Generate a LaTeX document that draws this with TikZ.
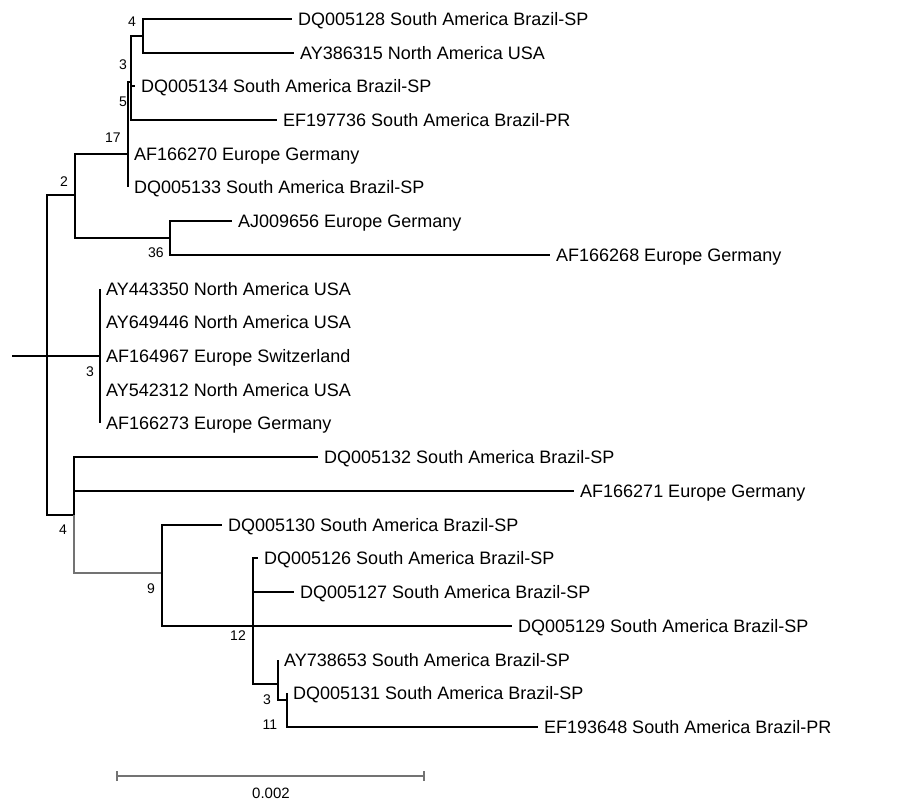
\documentclass[tikz,border=0pt]{standalone}
\usepackage{fontspec}
\setmainfont{Liberation Sans}

\tikzset{
  taxon/.style={anchor=west, inner xsep=6pt, inner ysep=0pt,
    text height=16.5pt, text depth=3.6pt, font=\fontsize{18}{20}\selectfont},
  boot/.style={inner sep=0pt, font=\fontsize{14}{15}\selectfont},
  branch/.style={line width=1.1pt},
  faint/.style={branch, draw=black!55}
}

\begin{document}
\begin{tikzpicture}[x=1pt,y=-1pt]
    \useasboundingbox (0,0) rectangle (902,802);

    % inner nodes of the tree
    \coordinate (base) at (12,356);
    \coordinate (root) at (47,356);
    \coordinate (n2) at (75,195);
    \coordinate (n17) at (128,154);
    \coordinate (n3a) at (131,82);
    \coordinate (n4a) at (143,36);
    \coordinate (n36) at (170,238);
    \coordinate (n3b) at (100,356);
    \coordinate (n4b) at (74,515);
    \coordinate (n9) at (162,573);
    \coordinate (n12) at (253,626);
    \coordinate (n3c) at (278,684);
    \coordinate (n11) at (287,700);

    % taxa
    \node [taxon] (t1) at (292,19) {DQ005128 South America Brazil-SP};
    \node [taxon] (t2) at (294,53) {AY386315 North America USA};
    \node [taxon] (t3) at (135,86) {DQ005134 South America Brazil-SP};
    \node [taxon] (t4) at (277,120) {EF197736 South America Brazil-PR};
    \node [taxon] (t5) at (128,154) {AF166270 Europe Germany};
    \node [taxon] (t6) at (128,187) {DQ005133 South America Brazil-SP};
    \node [taxon] (t7) at (232,221) {AJ009656 Europe Germany};
    \node [taxon] (t8) at (550,255) {AF166268 Europe Germany};
    \node [taxon] (t9) at (100,289) {AY443350 North America USA};
    \node [taxon] (t10) at (100,322) {AY649446 North America USA};
    \node [taxon] (t11) at (100,356) {AF164967 Europe Switzerland};
    \node [taxon] (t12) at (100,390) {AY542312 North America USA};
    \node [taxon] (t13) at (100,423) {AF166273 Europe Germany};
    \node [taxon] (t14) at (318,457) {DQ005132 South America Brazil-SP};
    \node [taxon] (t15) at (574,491) {AF166271 Europe Germany};
    \node [taxon] (t16) at (222,525) {DQ005130 South America Brazil-SP};
    \node [taxon] (t17) at (258,558) {DQ005126 South America Brazil-SP};
    \node [taxon] (t18) at (294,592) {DQ005127 South America Brazil-SP};
    \node [taxon] (t19) at (512,626) {DQ005129 South America Brazil-SP};
    \node [taxon] (t20) at (278,660) {AY738653 South America Brazil-SP};
    \node [taxon] (t21) at (287,693) {DQ005131 South America Brazil-SP};
    \node [taxon] (t22) at (538,727) {EF193648 South America Brazil-PR};

    % branches
    \draw [branch] (base) -- (root);
    \draw [branch] (root) |- (n2);
    \draw [branch] (root) |- (n3b);
    \draw [branch] (root) |- (n4b);
    \draw [branch] (n2) |- (n17);
    \draw [branch] (n2) |- (n36);
    \draw [branch] (n17) |- (n3a);
    \draw [branch] (n17) |- (t5.west);
    \draw [branch] (n17) |- (t6.west);
    \draw [branch] (n3a) |- (n4a);
    \draw [branch] (n3a) |- (t3.west);
    \draw [branch] (n3a) |- (t4.west);
    \draw [branch] (n4a) |- (t1.west);
    \draw [branch] (n4a) |- (t2.west);
    \draw [branch] (n36) |- (t7.west);
    \draw [branch] (n36) |- (t8.west);
    \draw [branch] (n3b) |- (t9.west);
    \draw [branch] (n3b) |- (t13.west);
    \draw [branch] (n4b) |- (t14.west);
    \draw [branch] (n4b) |- (t15.west);
    \draw [faint] (n4b) |- (n9);
    \draw [branch] (n9) |- (t16.west);
    \draw [branch] (n9) |- (n12);
    \draw [branch] (n12) |- (t17.west);
    \draw [branch] (n12) |- (t18.west);
    \draw [branch] (n12) |- (t19.west);
    \draw [branch] (n12) |- (n3c);
    \draw [branch] (n3c) |- (t20.west);
    \draw [branch] (n3c) |- (n11);
    \draw [branch] (n11) |- (t21.west);
    \draw [branch] (n11) |- (t22.west);

    % bootstrap values
    \node [boot] at (132,22) {4};
    \node [boot] at (123,65) {3};
    \node [boot] at (123,102) {5};
    \node [boot] at (113,138) {17};
    \node [boot] at (64,182) {2};
    \node [boot] at (156,253) {36};
    \node [boot] at (90,372) {3};
    \node [boot] at (63,530) {4};
    \node [boot] at (151,589) {9};
    \node [boot] at (238,636) {12};
    \node [boot] at (267,700) {3};
    \node [boot] at (270,725) {11};

    % scale bar
    \coordinate (bar0) at (117,776);
    \coordinate (bar1) at (424,776);
    \draw [faint] (bar0) -- (bar1);
    \draw [faint] ([yshift=-5pt]bar0) -- ([yshift=5pt]bar0);
    \draw [faint] ([yshift=-5pt]bar1) -- ([yshift=5pt]bar1);
    \node [boot, font=\fontsize{15}{16}\selectfont] (barlabel) at (271,793) {0.002};
\end{tikzpicture}
\end{document}
